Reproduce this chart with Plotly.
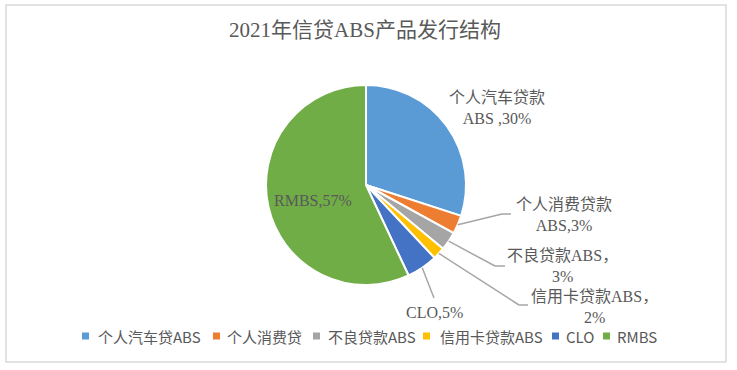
import math
import plotly.graph_objects as go

# ---- data ----
categories = ["个人汽车贷ABS", "个人消费贷", "不良贷款ABS", "信用卡贷款ABS", "CLO", "RMBS"]
shares = [30, 3, 3, 2, 5, 57]
label_prefix = ["个人汽车贷款<br>ABS ,", "个人消费贷款<br>ABS,", "不良贷款ABS，<br>",
                "信用卡贷款ABS，<br>", "CLO,", "RMBS,"]
title_text = "2021年信贷ABS产品发行结构"

# ---- styling / layout ----
W, H = 737, 370
colors = ["#5B9BD5", "#ED7D31", "#A5A5A5", "#FFC000", "#4472C4", "#70AD47"]
CX, CY, R = 366, 185, 100          # pie centre and radius in px
label_pos = [(497, 108), (564, 215), (562, 266), (594, 307), (434, 312), (313, 200)]
leader_elbows = {1: [(502, 214), (511, 214)],
                 2: [(495, 266), (505, 266)],
                 3: [(519, 305), (528, 305)],
                 4: [(434, 298)]}
legend_marker_x = [82, 213, 313, 423, 552, 603]
legend_text_x = [96, 225, 326, 438, 564, 615]
LEGEND_Y = 336
TXT = "#595959"
SERIF = "Liberation Serif, 'Noto Sans CJK SC', serif"
SANS = "'Noto Sans CJK SC', 'Liberation Sans', sans-serif"


def px(x, y):
    return x / W, 1 - y / H


fig = go.Figure(go.Pie(
    labels=categories, values=shares, sort=False, direction="clockwise", rotation=0,
    textinfo="none", hoverinfo="label+percent", showlegend=False,
    marker=dict(colors=colors, line=dict(color="white", width=2)),
    domain=dict(x=[(CX - R) / W, (CX + R) / W], y=[1 - (CY + R) / H, 1 - (CY - R) / H]),
))

# data labels
annotations = []
for i, (pre, v) in enumerate(zip(label_prefix, shares)):
    x, y = px(*label_pos[i])
    annotations.append(dict(x=x, y=y, xref="paper", yref="paper", text=f"{pre}{v}%",
                            showarrow=False, xanchor="center", yanchor="middle", align="center",
                            font=dict(family=SERIF, size=16, color=TXT)))

# leader lines from slice mid-angle
shapes = []
total = sum(shares)
cum = 0
mids = []
for v in shares:
    mids.append((cum + v / 2) / total * 2 * math.pi)
    cum += v
for i, pts in leader_elbows.items():
    a = mids[i]
    sx, sy = CX + R * math.sin(a), CY - R * math.cos(a)
    path_pts = [(sx, sy)] + pts
    for (x0, y0), (x1, y1) in zip(path_pts[:-1], path_pts[1:]):
        X0, Y0 = px(x0, y0)
        X1, Y1 = px(x1, y1)
        shapes.append(dict(type="line", xref="paper", yref="paper", x0=X0, y0=Y0, x1=X1, y1=Y1,
                           line=dict(color="#A6A6A6", width=1.5)))

# legend (square + text per category)
for cat, col, mx, tx in zip(categories, colors, legend_marker_x, legend_text_x):
    X0, Y0 = px(mx, LEGEND_Y + 3.5)
    X1, Y1 = px(mx + 7, LEGEND_Y - 3.5)
    shapes.append(dict(type="rect", xref="paper", yref="paper", x0=X0, y0=Y0, x1=X1, y1=Y1,
                       line=dict(width=0), fillcolor=col))
    ax, ay = px(tx, LEGEND_Y)
    annotations.append(dict(x=ax, y=ay, xref="paper", yref="paper", text=cat, showarrow=False,
                            xanchor="left", yanchor="middle",
                            font=dict(family=SANS, size=15, color=TXT)))

# chart border
bx0, by0 = px(6, 5)
bx1, by1 = px(726, 362)
shapes.append(dict(type="rect", xref="paper", yref="paper", x0=bx0, y0=by0, x1=bx1, y1=by1,
                   line=dict(color="#D9D9D9", width=1.5), fillcolor="rgba(0,0,0,0)"))

fig.update_layout(
    width=W, height=H, margin=dict(l=0, r=0, t=0, b=0),
    paper_bgcolor="white", plot_bgcolor="white",
    title=dict(text=title_text, x=365 / W, xanchor="center", y=1 - 30 / H, yanchor="middle",
               font=dict(family=SERIF, size=21, color=TXT)),
    showlegend=False,
    annotations=annotations, shapes=shapes,
)

fig.write_html("out.html", config={"displayModeBar": False},
               post_script="document.body.style.margin='0';")
